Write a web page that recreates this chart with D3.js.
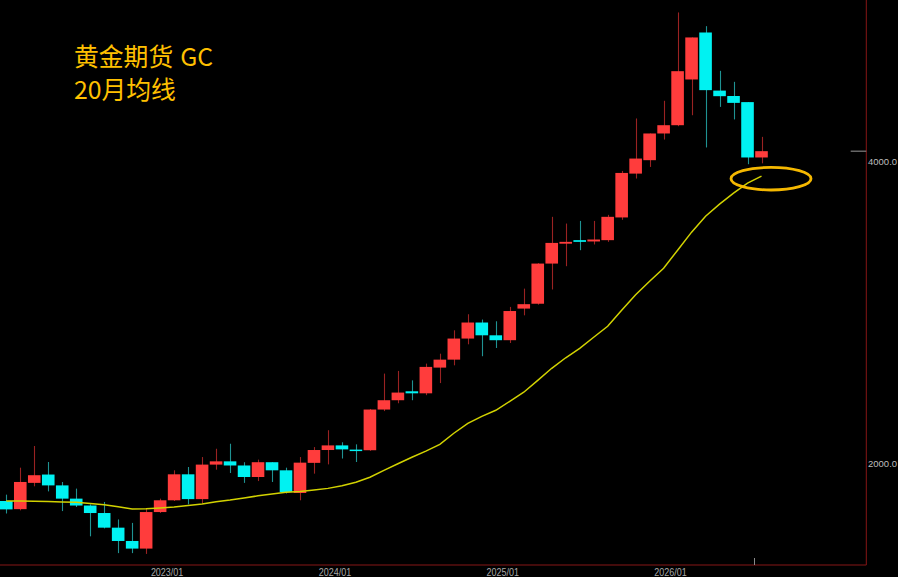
<!DOCTYPE html>
<html><head><meta charset="utf-8">
<script src="https://cdn.jsdelivr.net/npm/d3@7"></script>
<style>html,body{margin:0;padding:0;background:#000;overflow:hidden}</style>
</head><body><svg id="c" width="898" height="577"></svg>
<script>
const months = ["2022/01","2022/02","2022/03","2022/04","2022/05","2022/06","2022/07","2022/08","2022/09","2022/10","2022/11","2022/12",
"2023/01","2023/02","2023/03","2023/04","2023/05","2023/06","2023/07","2023/08","2023/09","2023/10","2023/11","2023/12",
"2024/01","2024/02","2024/03","2024/04","2024/05","2024/06","2024/07","2024/08","2024/09","2024/10","2024/11","2024/12",
"2025/01","2025/02","2025/03","2025/04","2025/05","2025/06","2025/07","2025/08","2025/09","2025/10","2025/11","2025/12",
"2026/01","2026/02","2026/03","2026/04","2026/05","2026/06","2026/07"];
const opens  = [1834,1800,1912,1949,1901,1844,1815,1784,1725,1673,1644,1788,1837,1950,1842,1994,2009,1990,1938,2005,1968,1868,2002,2062,2084,2064,2061,2263,2312,2360,2349,2492,2538,2664,2764,2684,2654,2854,2886,3165,3313,3340,3330,3340,3519,3892,4014,4268,4350,4832,5383,4710,4652,4587,4039];
const highs  = [1861,1980,2081,2006,1916,1887,1820,1830,1758,1744,1802,1844,1968,1983,2029,2068,2092,2005,2017,2005,1980,2029,2076,2158,2099,2089,2266,2458,2473,2420,2515,2573,2715,2817,2783,2772,2865,2988,3168,3524,3470,3491,3491,3540,3916,4418,4268,4601,5637,5322,5462,4929,4806,4587,4235];
const lows   = [1782,1795,1897,1875,1792,1809,1691,1722,1627,1627,1624,1784,1834,1820,1825,1971,1956,1912,1920,1916,1866,1837,1953,1995,2022,2006,2058,2255,2296,2312,2339,2405,2505,2629,2558,2607,2637,2810,2880,2982,3146,3264,3307,3327,3500,3848,3952,4209,4340,4451,4133,4537,4408,3977,3985];
const closes = [1799,1916,1946,1901,1844,1815,1784,1725,1673,1644,1788,1837,1950,1842,1994,2009,1990,1938,2005,1968,1872,2003,2062,2084,2065,2060,2263,2312,2353,2349,2496,2538,2664,2764,2684,2654,2838,2883,3165,3319,3327,3327,3345,3524,3898,4029,4268,4350,4925,5322,4715,4650,4579,4039,4098];
const ma20   = [1834,1834,1833,1832,1830,1829,1824,1818,1810,1801,1802,1805,1809,1815,1821,1831,1838,1847,1856,1864,1871,1875,1881,1888,1899,1915,1937,1968,1998,2028,2057,2089,2143,2192,2228,2259,2306,2355,2420,2488,2549,2605,2672,2740,2843,2946,3039,3131,3264,3402,3529,3628,3721,3808,3869];
const dateTicks = ["2023/01","2024/01","2025/01","2026/01"];
const priceTicks = [2000, 4000];
const titleLines = ["黄金期货 GC", "20月均线"];

const svg = d3.select("#c");
svg.append("rect").attr("width",898).attr("height",577).attr("fill","#000");

const x = d3.scaleBand().domain(months).range([-0.7, 768.5]).paddingInner(0.1).paddingOuter(0.05);
const y = d3.scaleLog().domain([2000, 4000]).range([463.3, 161.7]);
const gap = x.step() - x.bandwidth();
const cx = m => x(m) + x.bandwidth()/2;

const data = months.map((m,i)=>({m, o:opens[i], h:highs[i], l:lows[i], c:closes[i]}));
const UP = "#ff3c3c", DOWN = "#00f2f2", UPW = "#9a2222", DOWNW = "#1f9292";

const g = svg.append("g");
g.selectAll("line.w").data(data).join("line")
  .attr("x1", d=>Math.round(cx(d.m))+0.5).attr("x2", d=>Math.round(cx(d.m))+0.5)
  .attr("y1", d=>y(d.h)).attr("y2", d=>y(d.l))
  .attr("stroke", d=>d.c>=d.o?UPW:DOWNW).attr("stroke-width",1.1);
g.selectAll("rect.b").data(data).join("rect")
  .attr("x", d=>x(d.m)).attr("width", x.bandwidth())
  .attr("y", d=>Math.min(y(d.o),y(d.c)))
  .attr("height", d=>Math.max(1.5, Math.abs(y(d.o)-y(d.c))))
  .attr("fill", d=>d.c>=d.o?UP:DOWN);

const line = d3.line().x((d,i)=>cx(months[i])).y(d=>y(d));
svg.append("path").datum(ma20).attr("d", line).attr("fill","none")
  .attr("stroke","#d2d200").attr("stroke-width",1.5);

const axisX = 866.3, axisY = 565;
svg.append("line").attr("x1",0).attr("x2",axisX).attr("y1",axisY).attr("y2",axisY).attr("stroke","#861616").attr("stroke-width",1);
svg.append("line").attr("x1",axisX).attr("x2",axisX).attr("y1",0).attr("y2",axisY).attr("stroke","#861616").attr("stroke-width",1);

svg.selectAll("text.d").data(dateTicks).join("text")
  .attr("x", d=>x(d)-gap/2).attr("y", 575.5)
  .attr("text-anchor","middle").attr("fill","#a8a8a8")
  .attr("font-family","Liberation Sans, Arial, sans-serif").attr("font-size",10.5)
  .attr("textLength",32.5).attr("lengthAdjust","spacingAndGlyphs")
  .text(d=>d);

const lastM = months[months.length-1];
svg.append("line").attr("x1", x(lastM)-gap/2).attr("x2", x(lastM)-gap/2)
  .attr("y1",558).attr("y2",axisY).attr("stroke","#8a8a8a").attr("stroke-width",1);

svg.selectAll("text.p").data(priceTicks).join("text")
  .attr("x", 868).attr("y", d=>y(d)+3.5)
  .attr("fill","#bdbdbd").attr("font-family","Liberation Sans, Arial, sans-serif").attr("font-size",9.5)
  .text(d=>d3.format(".1f")(d));

const lastClose = closes[closes.length-1];
svg.append("line").attr("x1",850.7).attr("x2",axisX).attr("y1",y(lastClose)).attr("y2",y(lastClose))
  .attr("stroke","#9a9a9a").attr("stroke-width",1);

svg.selectAll("text.t").data(titleLines).join("text")
  .attr("x",74).attr("y",(d,i)=>66+i*32.5)
  .attr("fill","#ffc000").attr("font-family","Noto Sans CJK SC, sans-serif").attr("font-size",24.8)
  .attr("word-spacing",1.5)
  .text(d=>d);

const lastMA = ma20[ma20.length-1];
svg.append("ellipse").attr("cx", cx(lastM)+9.5).attr("cy", y(lastMA)+2.5)
  .attr("rx",40).attr("ry",11.3).attr("fill","none")
  .attr("stroke","#f5b800").attr("stroke-width",2.8);
</script></body></html>
